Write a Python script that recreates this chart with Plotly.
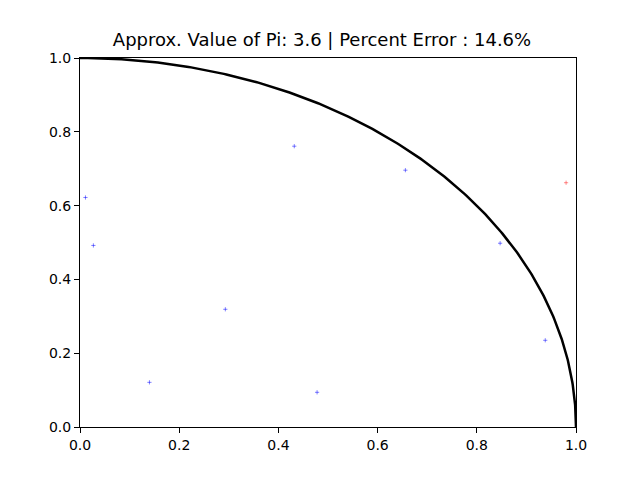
import numpy as np
import plotly.graph_objects as go

inside_x = [0.011, 0.027, 0.140, 0.432, 0.293, 0.478, 0.656, 0.847, 0.938]
inside_y = [0.622, 0.492, 0.121, 0.761, 0.319, 0.094, 0.696, 0.498, 0.235]
outside_x = [0.980]
outside_y = [0.662]
title_text = "Approx. Value of Pi: 3.6 | Percent Error : 14.6%"
tick_vals = [0.0, 0.2, 0.4, 0.6, 0.8, 1.0]

# quarter unit circle boundary
theta = np.linspace(0, np.pi / 2, 300)
cx = np.cos(theta)
cy = np.sin(theta)

fig = go.Figure()
fig.add_trace(go.Scatter(x=cx, y=cy, mode="lines",
                         line=dict(color="black", width=2.5), hoverinfo="skip"))
fig.add_trace(go.Scatter(x=inside_x, y=inside_y, mode="markers",
                         marker=dict(symbol="cross-thin", size=3,
                                     line=dict(color="rgba(0,0,255,0.5)", width=1))))
fig.add_trace(go.Scatter(x=outside_x, y=outside_y, mode="markers",
                         marker=dict(symbol="cross-thin", size=3,
                                     line=dict(color="rgba(255,0,0,0.45)", width=1))))

axis_common = dict(range=[0, 1], tickvals=tick_vals, tickformat=".1f",
                   showgrid=False, zeroline=False, showline=True, linecolor="black",
                   linewidth=1, mirror=True, ticks="outside", ticklen=5, tickwidth=1,
                   tickcolor="black", tickfont=dict(family="DejaVu Sans", size=14, color="black"))

# page body has an 8px offset; margins compensate so the axes land at 80..576 x 58..427
fig.update_layout(
    width=640, height=480,
    margin=dict(l=72, r=72, t=50, b=61),
    paper_bgcolor="white", plot_bgcolor="white",
    showlegend=False,
    title=dict(text=title_text, x=314 / 640, xanchor="center", y=1 - 32 / 480, yanchor="middle",
               font=dict(family="DejaVu Sans", size=18, color="black")),
    xaxis=axis_common,
    yaxis=axis_common,
)
fig.write_html("out.html")
